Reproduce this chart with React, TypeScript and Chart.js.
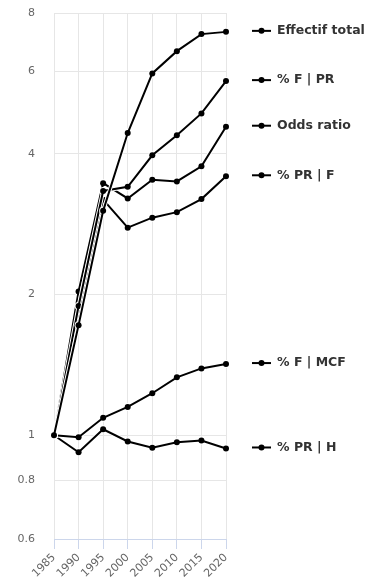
import { useEffect, useRef } from 'react';
import { Chart, registerables } from 'chart.js';
Chart.register(...registerables);

const years = ['1985', '1990', '1995', '2000', '2005', '2010', '2015', '2020'];
const seriesNames = ['Effectif total', '% F | PR', 'Odds ratio', '% PR | F', '% F | MCF', '% PR | H'];
const effectifTotal = [1, 1.72, 3.02, 4.43, 5.94, 6.63, 7.21, 7.29];
const fPR = [1, 1.89, 3.33, 3.4, 3.97, 4.38, 4.88, 5.72];
const oddsRatio = [1, 2.03, 3.46, 3.21, 3.52, 3.49, 3.76, 4.57];
const prF = [1, 1.82, 3.19, 2.78, 2.92, 3.0, 3.2, 3.58];
const fMCF = [1, 0.99, 1.09, 1.15, 1.23, 1.33, 1.39, 1.42];
const prH = [1, 0.92, 1.03, 0.97, 0.94, 0.966, 0.974, 0.937];
const yTicks = [0.6, 0.8, 1, 2, 4, 6, 8];

const allSeries = [effectifTotal, fPR, oddsRatio, prF, fMCF, prH];

const endLabels = {
  id: 'endLabels',
  afterDraw(chart: any) {
    const ctx = chart.ctx;
    const yScale = chart.scales.y;
    const right = chart.chartArea.right;
    chart.data.datasets.forEach((ds: any) => {
      if (!ds.endLabel) return;
      const v = ds.data[ds.data.length - 1];
      const y = yScale.getPixelForValue(v) - 1;
      ctx.save();
      ctx.strokeStyle = '#000';
      ctx.lineWidth = 2;
      ctx.beginPath();
      ctx.moveTo(right + 26, y);
      ctx.lineTo(right + 45, y);
      ctx.stroke();
      ctx.beginPath();
      ctx.arc(right + 35.5, y, 3, 0, Math.PI * 2);
      ctx.fillStyle = '#000';
      ctx.fill();
      ctx.font = 'bold 12.5px "DejaVu Sans"';
      ctx.fillStyle = '#333333';
      ctx.textBaseline = 'middle';
      ctx.textAlign = 'left';
      ctx.fillText(ds.label, right + 51, y);
      ctx.restore();
    });
  },
};

export default function App() {
  const ref = useRef<HTMLCanvasElement>(null);
  useEffect(() => {
    document.body.style.margin = '0';
    const datasets: any[] = [];
    allSeries.forEach((data, i) => {
      datasets.push({
        label: seriesNames[i],
        data,
        endLabel: true,
        borderColor: '#000',
        backgroundColor: '#000',
        borderWidth: 2,
        pointRadius: 3,
        pointBorderWidth: 0,
        pointBackgroundColor: '#000',
        tension: 0,
      });
      datasets.push({
        label: seriesNames[i] + ' halo',
        data,
        endLabel: false,
        borderColor: '#fff',
        backgroundColor: '#fff',
        borderWidth: 4,
        pointRadius: 4,
        pointBorderWidth: 0,
        pointBackgroundColor: '#fff',
        tension: 0,
      });
    });
    const font = { family: '"DejaVu Sans"', size: 11 };
    const chart = new Chart(ref.current!, {
      type: 'line',
      data: { labels: years, datasets },
      options: {
        animation: false,
        responsive: false,
        layout: { padding: { top: 13, right: 149, bottom: 0, left: 0 } },
        plugins: { legend: { display: false }, tooltip: { enabled: false } },
        scales: {
          x: {
            type: 'category',
            offset: false,
            grid: { color: '#e6e6e6', tickColor: '#ccd6eb', tickLength: 10, drawTicks: true },
            border: { color: '#ccd6eb' },
            ticks: { maxRotation: 45, minRotation: 45, padding: 2, color: '#666666', font, autoSkip: false },
            afterFit: (s: any) => { s.height = 43; },
          },
          y: {
            type: 'logarithmic',
            min: 0.6,
            max: 8,
            afterBuildTicks: (s: any) => { s.ticks = yTicks.map((v) => ({ value: v })); },
            afterFit: (s: any) => {
              s.width = 54;
              s.paddingTop = 7;
              s.paddingBottom = 7;
            },
            grid: {
              color: (c: any) => (c.tick && c.tick.value === 0.6 ? 'rgba(0,0,0,0)' : '#e6e6e6'),
              drawTicks: false,
            },
            border: { display: false },
            ticks: { padding: 19, color: '#666666', font, callback: (v: any) => String(v) },
          },
        },
      },
      plugins: [endLabels],
    } as any);
    return () => chart.destroy();
  }, []);
  return <canvas ref={ref} width={375} height={582} />;
}
